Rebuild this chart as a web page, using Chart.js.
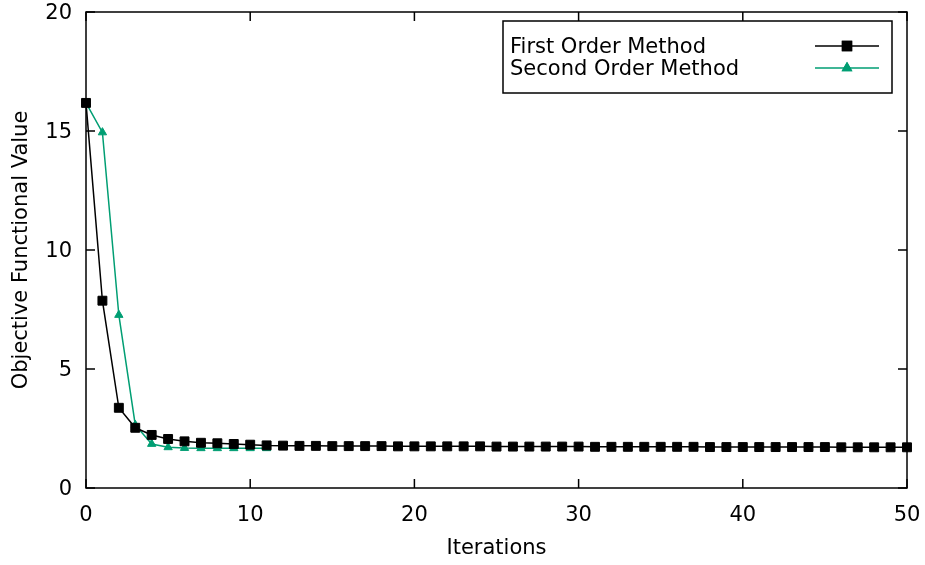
<!DOCTYPE html>
<html>
<head>
<meta charset="utf-8">
<script src="https://cdn.jsdelivr.net/npm/chart.js@4"></script>
<style>
  body { margin: 0; background: #fff; }
  #wrap { width: 925px; height: 565px; }
</style>
</head>
<body>
<div id="wrap"><canvas id="objChart"></canvas></div>
<script>
// iterations 0..50
const iterations = [0, 1, 2, 3, 4, 5, 6, 7, 8, 9, 10, 11, 12, 13, 14, 15, 16, 17, 18, 19, 20,
  21, 22, 23, 24, 25, 26, 27, 28, 29, 30, 31, 32, 33, 34, 35, 36, 37, 38, 39, 40,
  41, 42, 43, 44, 45, 46, 47, 48, 49, 50];

const firstOrder = [16.18, 7.87, 3.37, 2.53, 2.23, 2.06, 1.96, 1.90, 1.88, 1.85, 1.82, 1.79,
  1.78, 1.77, 1.77, 1.76, 1.76, 1.76, 1.76, 1.75, 1.75, 1.75, 1.75, 1.75, 1.75, 1.74,
  1.74, 1.74, 1.74, 1.74, 1.74, 1.73, 1.73, 1.73, 1.73, 1.73, 1.73, 1.73, 1.72, 1.72,
  1.72, 1.72, 1.72, 1.72, 1.72, 1.72, 1.71, 1.71, 1.71, 1.71, 1.71];

const secondOrder = [16.18, 14.94, 7.27, 2.65, 1.85, 1.71, 1.68, 1.67, 1.67, 1.67, 1.67, 1.67];

const xTicks = [0, 10, 20, 30, 40, 50];
const yTicks = [0, 5, 10, 15, 20];

const FONT = 'DejaVu Sans';
const FSIZE = 21;

const toPoints = (vals) => vals.map((v, i) => ({ x: iterations[i], y: v }));

// gnuplot style border with inward ticks on all four sides
const framePlugin = {
  id: 'frame',
  beforeDatasetsDraw(chart) {
    const { ctx, chartArea: a, scales } = chart;
    const len = 9;
    ctx.save();
    ctx.strokeStyle = '#000';
    ctx.lineWidth = 1.5;
    ctx.beginPath();
    xTicks.forEach((t) => {
      const px = scales.x.getPixelForValue(t);
      ctx.moveTo(px, a.bottom); ctx.lineTo(px, a.bottom - len);
      ctx.moveTo(px, a.top); ctx.lineTo(px, a.top + len);
    });
    yTicks.forEach((t) => {
      const py = scales.y.getPixelForValue(t);
      ctx.moveTo(a.left, py); ctx.lineTo(a.left + len, py);
      ctx.moveTo(a.right, py); ctx.lineTo(a.right - len, py);
    });
    ctx.stroke();
    ctx.strokeRect(a.left, a.top, a.right - a.left, a.bottom - a.top);
    ctx.restore();
  }
};

// key box in the top right corner
const keyPlugin = {
  id: 'keyBox',
  afterDatasetsDraw(chart) {
    const { ctx, chartArea: a } = chart;
    const right = a.right - 15;
    const left = right - 389;
    const top = a.top + 9;
    const h = 72;
    ctx.save();
    ctx.fillStyle = '#fff';
    ctx.fillRect(left, top, right - left, h);
    ctx.strokeStyle = '#000';
    ctx.lineWidth = 1.5;
    ctx.strokeRect(left, top, right - left, h);
    ctx.font = FSIZE + 'px "' + FONT + '"';
    ctx.textBaseline = 'middle';
    ctx.textAlign = 'left';
    const rows = [top + 25, top + 47];
    chart.data.datasets.forEach((ds, i) => {
      const y = rows[i];
      ctx.fillStyle = '#000';
      ctx.fillText(ds.label, left + 7, y + 2);
      ctx.strokeStyle = ds.borderColor;
      ctx.lineWidth = ds.borderWidth;
      ctx.beginPath();
      ctx.moveTo(right - 77, y);
      ctx.lineTo(right - 13, y);
      ctx.stroke();
      Chart.helpers.drawPoint(ctx, {
        pointStyle: ds.pointStyle,
        radius: ds.pointRadius,
        borderWidth: 1,
        rotation: 0
      }, right - 45, y);
      ctx.fillStyle = ds.pointBackgroundColor;
      ctx.strokeStyle = ds.pointBorderColor;
      ctx.fill();
      ctx.stroke();
    });
    ctx.restore();
  }
};

const ctx = document.getElementById('objChart').getContext('2d');

new Chart(ctx, {
  type: 'line',
  data: {
    datasets: [{
      label: 'First Order Method',
      data: toPoints(firstOrder),
      borderColor: '#000000',
      backgroundColor: '#000000',
      pointBackgroundColor: '#000000',
      pointBorderColor: '#000000',
      borderWidth: 1.5,
      pointStyle: 'rect',
      pointRadius: 6.3,
      pointBorderWidth: 1,
      tension: 0,
      clip: false,
    }, {
      label: 'Second Order Method',
      data: toPoints(secondOrder),
      borderColor: '#009e73',
      backgroundColor: '#009e73',
      pointBackgroundColor: '#009e73',
      pointBorderColor: '#009e73',
      borderWidth: 1.5,
      pointStyle: 'triangle',
      pointRadius: 4.8,
      pointBorderWidth: 1,
      tension: 0,
      clip: false,
    }],
  },
  options: {
    responsive: true,
    maintainAspectRatio: false,
    animation: false,
    layout: { padding: { left: 0, right: 18, top: 12, bottom: 0 } },
    plugins: {
      legend: { display: false },
      tooltip: { enabled: false },
    },
    scales: {
      x: {
        type: 'linear',
        min: 0,
        max: 50,
        afterFit(scale) {
          scale.height = 77;
          scale.paddingLeft = 0;
          scale.paddingRight = 0;
        },
        afterBuildTicks(scale) { scale.ticks = xTicks.map((v) => ({ value: v })); },
        grid: { display: false },
        border: { display: false },
        ticks: { color: '#000', font: { family: FONT, size: FSIZE }, padding: 7, maxRotation: 0 },
        title: {
          display: true,
          text: 'Iterations',
          color: '#000',
          font: { family: FONT, size: FSIZE },
          padding: { top: 0, bottom: 4 },
        },
      },
      y: {
        min: 0,
        max: 20,
        afterFit(scale) {
          scale.width = 86;
          scale.paddingTop = 0;
          scale.paddingBottom = 0;
        },
        afterBuildTicks(scale) { scale.ticks = yTicks.map((v) => ({ value: v })); },
        grid: { display: false },
        border: { display: false },
        ticks: { color: '#000', font: { family: FONT, size: FSIZE }, padding: 6, labelOffset: 2 },
        title: {
          display: true,
          text: 'Objective Functional Value',
          color: '#000',
          font: { family: FONT, size: FSIZE },
          padding: { top: 9, bottom: 0 },
        },
      },
    },
  },
  plugins: [framePlugin, keyPlugin],
});
</script>
</body>
</html>
